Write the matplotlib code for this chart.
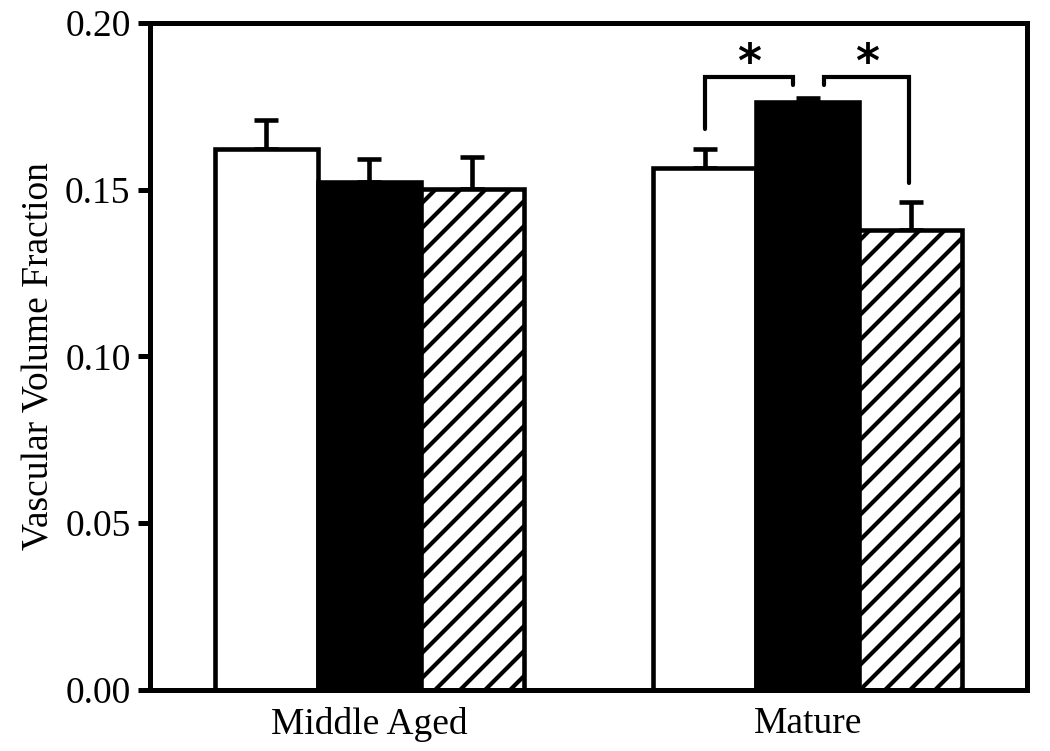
import matplotlib
matplotlib.use("Agg")
import matplotlib.pyplot as plt
import numpy as np

groups = ["Middle Aged", "Mature"]
white_vals = [0.1621, 0.1564]
black_vals = [0.1523, 0.1763]
hatch_vals = [0.1502, 0.1379]
white_err = [0.0088, 0.0057]
black_err = [0.0067, 0.0012]
hatch_err = [0.0096, 0.0085]
yticks = [0.00, 0.05, 0.10, 0.15, 0.20]
ytick_labels = ["0.00", "0.05", "0.10", "0.15", "0.20"]

plt.rcParams['font.family'] = ['Liberation Serif', 'DejaVu Serif']
plt.rcParams['hatch.linewidth'] = 2.0
plt.rcParams['hatch.color'] = 'black'

fig = plt.figure(figsize=(7.0, 751/150), dpi=150)
ax = fig.add_axes([150/1050, 61/751, 877/1050, (690-22.7)/751])

x = np.arange(len(groups))
w = 0.235
lw = 2.2
err_kw = dict(elinewidth=2.2, capthick=2.2, capsize=5.8, ecolor='black')

series = [
    (white_vals, white_err, 'white', None, -w),
    (black_vals, black_err, 'black', None, 0.0),
    (hatch_vals, hatch_err, 'white', '//', w),
]
for vals, errs, fc, hatch, off in series:
    ax.bar(x + off, vals, width=w, color=fc, edgecolor='black', linewidth=lw,
           hatch=hatch, zorder=2)
    ax.errorbar(x + off, vals, yerr=[np.zeros(len(vals)), errs], fmt='none',
                zorder=1, **err_kw)

# significance brackets (Mature group)
bl = dict(color='black', lw=2.0, solid_capstyle='round', solid_joinstyle='miter')
ax.plot([1 - w, 1 - w, 1 - 0.034, 1 - 0.034], [0.1681, 0.1837, 0.1837, 0.1813], **bl)
ax.plot([1 + 0.036, 1 + 0.036, 1 + w - 0.005, 1 + w - 0.005], [0.1813, 0.1837, 0.1837, 0.1519], **bl)
ax.text((1 - w + 1 - 0.034) / 2, 0.1875, "*", ha='center', va='center',
        fontsize=22, fontweight='bold', family='DejaVu Sans')
ax.text((1 + 0.036 + 1 + w) / 2, 0.1875, "*", ha='center', va='center',
        fontsize=22, fontweight='bold', family='DejaVu Sans')

ax.set_xlim(-0.5, 1.5)
ax.set_ylim(0, 0.20)
ax.set_yticks(yticks)
ax.set_yticklabels(ytick_labels)
ax.set_xticks(x)
ax.set_xticklabels(groups)
for s in ax.spines.values():
    s.set_linewidth(2.4)
ax.tick_params(axis='y', length=5.8, width=2.4, pad=3.5, labelsize=18)
ax.tick_params(axis='x', length=0, pad=8, labelsize=18)
ax.set_ylabel("Vascular Volume Fraction", fontsize=18, labelpad=4)

fig.savefig("out.png", dpi=150)
